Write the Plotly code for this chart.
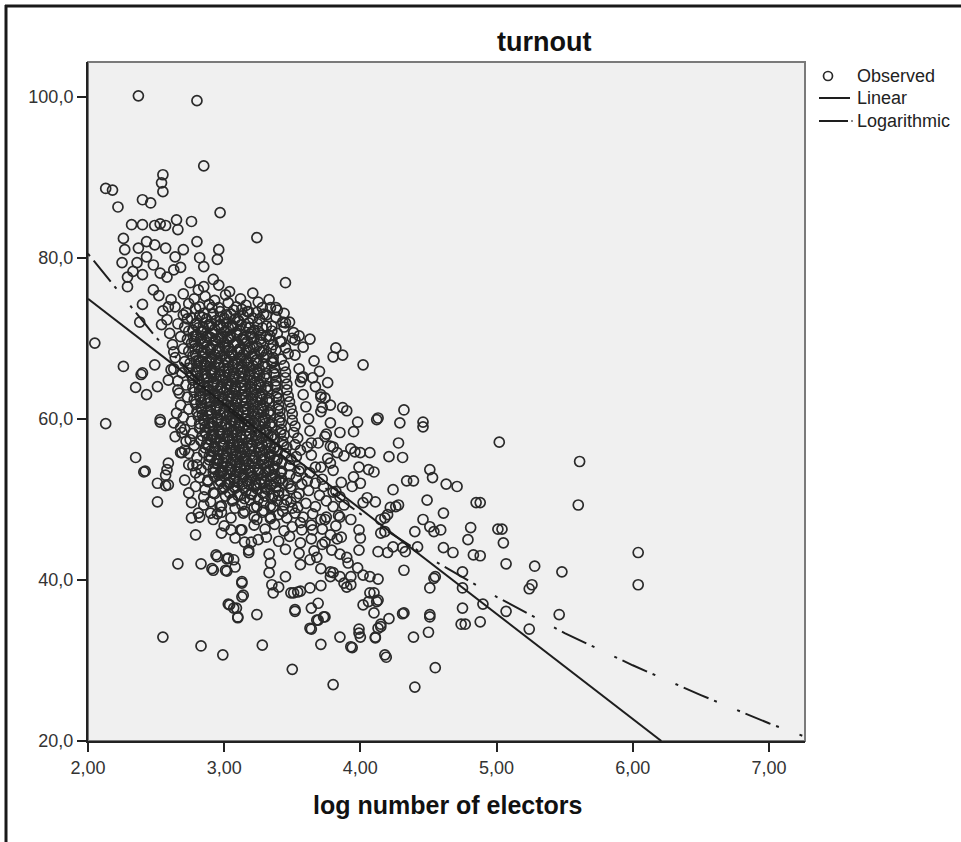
import plotly.graph_objects as go

# ---------------- data ----------------
observed_sparse = [
    (2.37,100.1),(2.80,99.5),(2.85,91.4),
    (2.55,90.3),(2.54,89.3),(2.55,88.2),
    (2.13,88.6),(2.18,88.4),(2.22,86.3),(2.40,87.2),(2.46,86.8),
    (2.97,85.6),(3.24,82.5),(3.45,76.9),
    (2.65,84.7),(2.76,84.5),(2.66,83.5),
    (2.32,84.1),(2.40,84.1),(2.49,84.0),(2.53,84.2),(2.57,84.0),
    (2.26,82.4),(2.27,81.0),(2.25,79.4),(2.29,77.6),(2.29,76.4),
    (2.37,81.2),(2.43,82.0),(2.49,81.6),(2.57,81.2),(2.64,80.1),(2.70,81.0),(2.80,82.0),(2.82,80.0),(2.85,78.9),(2.96,81.0),(2.95,79.8),
    (2.43,80.1),(2.48,79.1),(2.36,79.4),(2.33,78.3),(2.40,77.9),(2.53,78.1),(2.58,77.6),(2.63,78.5),(2.68,78.8),(2.75,76.9),(2.81,76.0),(2.85,76.4),(2.92,77.3),(2.96,76.6),(3.04,75.8),
    (3.25,74.5),(3.34,73.8),(3.39,73.5),(3.43,72.0),(3.51,70.7),(3.52,69.8),(3.17,73.3),(3.07,73.5),(3.10,72.3),(3.03,71.3),(2.97,71.7),
    (3.82,68.8),(3.87,67.9),(3.80,67.7),(4.02,66.7),
    (2.05,69.4),(2.38,72.0),
    (2.26,66.5),(2.40,65.7),(2.35,63.9),(2.43,63.0),
    (3.65,65.1),(3.57,65.1),(3.76,64.5),(3.71,62.7),(3.78,61.7),(3.87,61.4),(3.72,61.4),(4.13,60.1),(4.32,61.1),(4.46,59.6),
    (5.02,57.1),(5.61,54.7),(5.60,49.3),(4.88,49.6),(5.01,46.3),(5.04,46.3),(5.05,44.6),(4.88,43.0),(5.07,42.0),(5.28,41.7),
    (5.48,41.0),(6.04,43.4),(6.04,39.4),(5.26,39.4),(5.24,38.9),(4.90,37.0),(4.88,34.8),(5.07,36.1),(5.46,35.7),(5.24,33.9),
    (2.13,59.4),(2.35,55.2),(2.41,53.4),(2.51,52.0),(2.57,51.7),(2.51,49.7),(2.59,54.5),(2.58,53.7),(2.68,55.8),(2.66,42.0),(2.79,45.6),
    (2.83,42.0),(2.91,41.4),(2.95,42.9),(3.02,42.6),(3.07,42.5),(3.02,41.1),
    (3.13,39.6),(3.14,38.1),(3.13,37.9),(3.03,37.0),(3.07,36.5),(3.10,35.3),(3.24,35.7),
    (2.55,32.9),(2.83,31.8),(2.99,30.7),(3.28,31.9),(3.50,28.9),(3.80,27.0),(4.40,26.7),(4.55,29.1),(4.19,30.4),(4.39,32.9),
    (4.50,33.5),(4.51,35.4),(4.31,35.8),(4.21,35.2),
    (3.85,32.9),(3.94,31.6),(3.99,33.4),(3.99,33.9),(4.11,32.9),(4.13,34.0),(4.15,34.5),
    (3.71,32.0),(3.64,33.9),(3.69,35.0),(3.73,35.4),(3.69,37.1),(3.52,36.1),
    (3.36,38.4),(3.33,40.9),(3.34,42.1),(3.35,39.4),(3.51,38.4),(3.56,38.6),(3.63,39.0),(3.71,39.3),(3.90,39.1),(3.93,39.4),
    (4.02,36.9),(4.06,37.3),(4.10,38.4),(4.13,37.5),(4.13,40.1),(4.32,41.2),
    (4.51,39.0),(4.54,40.2),(4.75,41.0),(4.75,39.0),(4.75,36.5),(4.74,34.5),(4.77,34.5),
    (4.83,43.1),(4.81,46.5),(4.79,45.0),(4.85,49.6),
    (4.63,51.9),(4.71,51.6),(4.51,53.7),(4.53,52.7),(4.49,49.9),(4.61,48.3),
    (4.21,55.3),(4.31,55.2),(4.28,57.0),(4.34,52.3),(4.39,52.3),(4.24,51.2),(4.28,49.3),(4.18,47.7),(4.15,45.8),(4.31,44.0),
    (4.42,44.1),(4.33,43.5),(4.46,47.5),(4.51,46.6),(4.54,46.0),(4.59,46.2),(4.61,44.0),(4.68,43.4),(4.40,46.0),
    (3.93,56.3),(3.96,55.9),(4.00,55.8),(4.07,55.8),(3.99,54.0),(4.06,53.7),(4.10,53.4),(3.95,52.8),(4.00,52.0),(3.94,51.6),
    (4.02,49.6),(4.05,50.2),(4.11,49.7),(4.15,47.5),(4.20,48.1),(4.22,49.0),(4.26,49.1),(4.24,44.1),(4.20,43.4),(4.13,43.5),
    (4.18,46.0),(3.99,46.2),(4.00,45.2),(3.99,43.7),(3.90,42.8),(3.91,42.1),(3.98,41.5),(4.02,40.6),(4.07,40.4),(3.93,40.4),
    (3.88,39.6),(3.80,40.9),(3.78,40.4),
    (3.61,56.5),(3.69,57.0),(3.74,57.8),(3.80,56.5),(3.83,55.8),(3.78,54.5),(3.71,54.0),(3.63,53.3),(3.67,52.0),(3.73,51.6),
    (3.80,50.9),(3.85,50.3),(3.80,49.1),(3.75,47.8),(3.85,47.8),(3.93,47.5),(3.71,47.5),(3.65,46.2),(3.56,47.1),(3.78,45.6),
    (3.83,45.1),(3.72,44.4),(3.79,43.7),(3.85,43.2),(3.68,42.8),(3.63,42.5),(3.56,41.9),(3.71,41.4),(3.78,41.0),(3.85,40.4),
    (4.55,40.4),(4.51,35.7),(4.32,35.9),(4.18,30.7),
    (4.07,38.4),(4.12,37.3),(4.10,35.9),(4.15,34.2),(4.11,32.8),(4.00,32.9),(3.93,31.7),(3.63,34.0),(3.68,35.0),(3.74,35.4),
    (3.64,36.5),(3.52,36.3),(3.54,38.5),(3.49,38.4),
    (3.58,65.2),(3.71,63.0),(3.71,60.9),(3.78,59.5),(3.85,58.3),(4.12,59.9),(4.29,59.5),(4.46,59.0),
    (2.39,65.5),(2.51,64.0),(2.49,66.7),(2.53,59.9),(2.42,53.5),(2.57,53.0),
    (2.40,74.2),(2.48,76.0),(2.59,73.9),(2.54,71.7),
    (2.63,68.3),(2.61,66.1),(2.59,64.8),(2.66,63.6),(2.65,60.7),(2.68,58.9),(2.64,57.8),(2.71,56.1),(2.74,54.3),(2.79,53.3),
    (3.18,73.3),(3.38,73.8),(3.45,71.9),(3.42,69.6),(3.36,67.6),(3.27,70.4),(3.20,70.7),
    (2.92,41.2),(2.94,43.1),(3.03,42.7),(3.08,41.6),(3.01,41.2),(3.13,39.8),(3.04,36.9),(3.09,36.5),(3.10,35.4),(3.18,43.4),
    (3.40,39.1),(3.45,40.4),
    (2.59,51.8),(2.74,50.8),(2.81,48.3),(2.76,47.7),(2.85,49.3),(2.90,48.3),(2.98,48.4),(3.05,46.2),(2.98,45.8),(3.13,46.2),
    (3.15,44.7),(3.25,45.0),(3.24,47.5),(3.34,47.8),
    (2.53,59.6),(2.63,59.5),(2.69,58.3),(2.75,57.4),(2.69,55.8),(2.80,54.3),(2.71,52.4),(2.79,51.6),(2.85,50.3),(2.76,49.6),
    (2.82,47.8),(2.92,47.5),(2.97,49.1),(2.92,50.8),(2.88,52.4),(2.97,53.3),(3.04,52.0),
]

observed_core = [
    (2.52,75.3),(2.61,74.8),(2.70,75.5),(2.78,74.9),(2.86,75.2),(2.93,74.7),(3.01,75.4),(3.12,74.9),(3.21,75.6),(3.33,74.8),
    (2.55,73.4),(2.64,73.9),(2.72,73.2),(2.79,73.7),(2.85,73.1),(2.91,73.8),(2.97,73.3),(3.05,73.0),(3.13,73.6),(3.24,73.2),(3.31,72.9),(3.44,73.1),
    (2.58,72.3),(2.66,71.8),(2.73,72.4),(2.80,71.9),(2.84,72.6),(2.89,71.7),(2.94,72.2),(3.00,72.5),(3.06,71.6),(3.11,72.1),(3.18,71.9),(3.26,72.4),(3.35,71.5),(3.48,72.0),
    (2.60,70.6),(2.68,70.2),(2.74,70.9),(2.79,70.3),(2.83,70.8),(2.87,70.1),(2.91,70.6),(2.96,70.0),(3.00,70.8),(3.04,70.3),(3.09,70.7),(3.14,70.1),(3.19,70.5),(3.25,70.9),(3.31,70.2),(3.39,70.6),(3.55,70.3),(3.63,69.9),
    (2.62,69.2),(2.70,68.7),(2.76,69.4),(2.81,68.9),(2.85,69.3),(2.88,68.6),(2.92,69.1),(2.96,68.7),(3.00,69.5),(3.03,68.9),(3.07,69.2),(3.11,68.6),(3.15,69.3),(3.19,68.8),(3.24,69.0),(3.29,68.5),(3.36,69.2),(3.45,68.8),(3.58,68.9),
    (2.64,67.6),(2.71,67.1),(2.77,67.8),(2.81,67.2),(2.84,67.7),(2.87,67.0),(2.91,67.5),(2.94,67.1),(2.98,67.8),(3.01,67.3),(3.04,67.7),(3.08,67.0),(3.12,67.6),(3.16,67.2),(3.20,67.8),(3.24,67.3),(3.29,67.6),(3.35,67.0),(3.42,67.4),(3.52,67.9),(3.66,67.2),
    (2.63,66.2),(2.69,65.7),(2.74,66.3),(2.79,65.8),(2.83,66.4),(2.86,65.6),(2.90,66.1),(2.93,65.7),(2.97,66.4),(3.00,65.9),(3.03,66.3),(3.07,65.6),(3.10,66.2),(3.14,65.8),(3.18,66.4),(3.22,65.7),(3.26,66.1),(3.31,65.6),(3.37,66.3),(3.45,65.8),(3.55,66.2),(3.70,65.9),
    (2.66,64.7),(2.72,64.2),(2.77,64.8),(2.81,64.3),(2.85,64.9),(2.88,64.1),(2.92,64.6),(2.95,64.2),(2.99,64.8),(3.02,64.3),(3.05,64.7),(3.08,64.0),(3.12,64.5),(3.15,64.1),(3.19,64.8),(3.23,64.2),(3.27,64.6),(3.32,64.0),(3.38,64.7),(3.46,64.3),(3.56,64.6),(3.67,64.0),
    (2.67,63.2),(2.73,62.7),(2.78,63.3),(2.82,62.8),(2.86,63.4),(2.89,62.6),(2.93,63.1),(2.96,62.7),(3.00,63.3),(3.03,62.8),(3.06,63.2),(3.09,62.5),(3.13,63.0),(3.16,62.6),(3.20,63.3),(3.24,62.7),(3.28,63.1),(3.33,62.5),(3.39,63.2),(3.47,62.8),(3.58,63.0),(3.74,62.6),
    (2.68,61.7),(2.74,61.2),(2.79,61.8),(2.83,61.3),(2.87,61.9),(2.90,61.1),(2.94,61.6),(2.97,61.2),(3.01,61.8),(3.04,61.3),(3.07,61.7),(3.10,61.0),(3.14,61.5),(3.17,61.1),(3.21,61.8),(3.25,61.2),(3.29,61.6),(3.34,61.0),(3.40,61.7),(3.49,61.3),(3.60,61.5),(3.90,61.0),
    (2.70,60.2),(2.76,59.7),(2.81,60.3),(2.85,59.8),(2.88,60.4),(2.91,59.6),(2.95,60.1),(2.98,59.7),(3.02,60.3),(3.05,59.8),(3.08,60.2),(3.11,59.5),(3.15,60.0),(3.18,59.6),(3.22,60.3),(3.26,59.7),(3.30,60.1),(3.35,59.5),(3.41,60.2),(3.50,59.8),(3.62,60.0),(3.98,59.6),
    (2.71,58.7),(2.77,58.2),(2.82,58.8),(2.86,58.3),(2.89,58.9),(2.92,58.1),(2.96,58.6),(2.99,58.2),(3.03,58.8),(3.06,58.3),(3.09,58.7),(3.12,58.0),(3.16,58.5),(3.19,58.1),(3.23,58.8),(3.27,58.2),(3.31,58.6),(3.36,58.0),(3.42,58.7),(3.51,58.3),(3.63,58.5),(3.75,58.1),(3.95,58.4),
    (2.72,57.2),(2.78,56.7),(2.83,57.3),(2.87,56.8),(2.90,57.4),(2.93,56.6),(2.97,57.1),(3.00,56.7),(3.04,57.3),(3.07,56.8),(3.10,57.2),(3.13,56.5),(3.17,57.0),(3.20,56.6),(3.24,57.3),(3.28,56.7),(3.32,57.1),(3.37,56.5),(3.43,57.2),(3.52,56.8),(3.64,57.0),(3.78,56.6),
    (2.74,55.7),(2.80,55.2),(2.85,55.8),(2.89,55.3),(2.92,55.9),(2.95,55.1),(2.99,55.6),(3.02,55.2),(3.06,55.8),(3.09,55.3),(3.12,55.7),(3.15,55.0),(3.19,55.5),(3.22,55.1),(3.26,55.8),(3.30,55.2),(3.34,55.6),(3.39,55.0),(3.45,55.7),(3.53,55.3),(3.64,55.5),(3.76,55.1),(3.88,55.4),
    (2.77,54.2),(2.83,53.7),(2.88,54.3),(2.92,53.8),(2.95,54.4),(2.98,53.6),(3.02,54.1),(3.05,53.7),(3.09,54.3),(3.12,53.8),(3.15,54.2),(3.18,53.5),(3.22,54.0),(3.25,53.6),(3.29,54.3),(3.33,53.7),(3.37,54.1),(3.42,53.5),(3.48,54.2),(3.56,53.8),(3.67,54.0),(3.80,53.6),
    (2.82,52.7),(2.88,52.2),(2.93,52.8),(2.97,52.3),(3.00,52.9),(3.03,52.1),(3.07,52.6),(3.10,52.2),(3.14,52.8),(3.17,52.3),(3.20,52.7),(3.23,52.0),(3.27,52.5),(3.30,52.1),(3.34,52.8),(3.38,52.2),(3.42,52.6),(3.47,52.0),(3.53,52.7),(3.61,52.3),(3.72,52.5),(3.86,52.1),
    (2.86,51.2),(2.93,50.7),(2.99,51.3),(3.04,50.8),(3.08,51.4),(3.12,50.6),(3.16,51.1),(3.20,50.7),(3.24,51.3),(3.28,50.8),(3.32,51.2),(3.36,50.5),(3.40,51.0),(3.44,50.6),(3.49,51.3),(3.55,50.7),(3.62,51.1),(3.70,50.5),(3.82,51.0),
    (2.90,49.7),(2.98,49.2),(3.06,49.8),(3.13,49.3),(3.19,49.9),(3.24,49.1),(3.29,49.6),(3.34,49.2),(3.39,49.8),(3.44,49.3),(3.49,49.7),(3.54,49.0),(3.60,49.5),(3.67,49.1),(3.75,49.8),(3.88,49.3),
    (2.95,48.2),(3.05,47.7),(3.14,48.3),(3.22,47.8),(3.28,48.4),(3.34,47.6),(3.40,48.1),(3.46,47.7),(3.52,48.3),(3.58,47.8),(3.65,48.2),(3.74,47.5),(3.84,48.0),
    (3.00,46.7),(3.12,46.2),(3.22,46.8),(3.30,46.3),(3.37,46.9),(3.44,46.1),(3.50,46.6),(3.57,46.2),(3.64,46.8),(3.72,46.3),(3.82,46.7),
    (3.08,45.2),(3.20,44.7),(3.31,45.3),(3.40,44.8),(3.48,45.4),(3.56,44.6),(3.64,45.1),(3.74,44.7),(3.86,45.3),
    (3.18,43.7),(3.33,43.2),(3.45,43.8),(3.55,43.3),(3.66,43.6),
]

observed_core_dense = [
    (2.74,74.3),(2.82,73.9),(2.89,74.2),(2.96,73.8),(3.03,74.4),(3.09,73.9),(3.16,74.1),(3.28,73.8),
    (2.70,72.9),(2.76,72.5),(2.82,72.8),(2.87,72.4),(2.92,73.0),(2.97,72.6),(3.02,72.9),(3.08,72.4),(3.14,72.8),(3.21,72.5),(3.29,73.0),(3.38,72.6),
    (2.71,71.4),(2.77,71.0),(2.81,71.3),(2.85,70.9),(2.89,71.5),(2.93,71.1),(2.98,71.3),(3.02,70.9),(3.06,71.5),(3.11,71.0),(3.16,71.4),(3.22,71.0),(3.28,71.3),(3.35,70.9),(3.44,71.4),
    (2.73,69.9),(2.78,69.6),(2.83,70.0),(2.86,69.5),(2.90,70.1),(2.94,69.7),(2.98,70.0),(3.02,69.6),(3.05,70.1),(3.09,69.5),(3.13,69.9),(3.17,69.6),(3.22,70.0),(3.27,69.5),(3.33,69.9),(3.41,69.6),(3.50,70.0),
    (2.74,68.4),(2.79,68.0),(2.83,68.5),(2.86,68.1),(2.90,68.6),(2.93,68.0),(2.96,68.4),(3.00,68.1),(3.03,68.5),(3.06,67.9),(3.10,68.3),(3.14,68.0),(3.18,68.5),(3.22,68.1),(3.26,68.4),(3.31,68.0),(3.38,68.5),(3.47,68.1),
    (2.75,66.9),(2.80,66.5),(2.83,67.0),(2.87,66.6),(2.90,67.1),(2.93,66.5),(2.96,66.9),(3.00,66.6),(3.03,67.0),(3.06,66.4),(3.10,66.8),(3.13,66.5),(3.17,67.0),(3.21,66.6),(3.25,66.9),(3.30,66.5),(3.36,67.0),(3.44,66.6),
    (2.76,65.4),(2.81,65.0),(2.84,65.5),(2.88,65.1),(2.91,65.6),(2.94,65.0),(2.97,65.4),(3.01,65.1),(3.04,65.5),(3.07,64.9),(3.11,65.3),(3.14,65.0),(3.18,65.5),(3.22,65.1),(3.26,65.4),(3.31,65.0),(3.37,65.5),(3.45,65.1),
    (2.77,63.9),(2.82,63.5),(2.85,64.0),(2.89,63.6),(2.92,64.1),(2.95,63.5),(2.98,63.9),(3.02,63.6),(3.05,64.0),(3.08,63.4),(3.12,63.8),(3.15,63.5),(3.19,64.0),(3.23,63.6),(3.27,63.9),(3.32,63.5),(3.38,64.0),(3.46,63.6),
    (2.78,62.4),(2.83,62.0),(2.86,62.5),(2.90,62.1),(2.93,62.6),(2.96,62.0),(2.99,62.4),(3.03,62.1),(3.06,62.5),(3.09,61.9),(3.13,62.3),(3.16,62.0),(3.20,62.5),(3.24,62.1),(3.28,62.4),(3.33,62.0),(3.40,62.5),(3.48,62.1),
    (2.80,60.9),(2.84,60.5),(2.88,61.0),(2.91,60.6),(2.94,61.1),(2.97,60.5),(3.00,60.9),(3.04,60.6),(3.07,61.0),(3.10,60.4),(3.14,60.8),(3.17,60.5),(3.21,61.0),(3.25,60.6),(3.29,60.9),(3.34,60.5),(3.41,61.0),(3.50,60.6),
    (2.82,59.4),(2.86,59.0),(2.89,59.5),(2.92,59.1),(2.95,59.6),(2.98,59.0),(3.01,59.4),(3.05,59.1),(3.08,59.5),(3.11,58.9),(3.15,59.3),(3.18,59.0),(3.22,59.5),(3.26,59.1),(3.30,59.4),(3.35,59.0),(3.42,59.5),(3.52,59.1),
    (2.84,57.9),(2.88,57.5),(2.91,58.0),(2.94,57.6),(2.97,58.1),(3.00,57.5),(3.03,57.9),(3.06,57.6),(3.09,58.0),(3.13,57.4),(3.16,57.8),(3.20,57.5),(3.24,58.0),(3.28,57.6),(3.32,57.9),(3.37,57.5),(3.44,58.0),(3.54,57.6),
    (2.86,56.4),(2.90,56.0),(2.93,56.5),(2.96,56.1),(2.99,56.6),(3.02,56.0),(3.05,56.4),(3.08,56.1),(3.11,56.5),(3.15,55.9),(3.18,56.3),(3.22,56.0),(3.26,56.5),(3.30,56.1),(3.34,56.4),(3.39,56.0),(3.46,56.5),(3.56,56.1),
    (2.89,54.9),(2.93,54.5),(2.96,55.0),(2.99,54.6),(3.02,55.1),(3.05,54.5),(3.08,54.9),(3.11,54.6),(3.14,55.0),(3.18,54.4),(3.21,54.8),(3.25,54.5),(3.29,55.0),(3.33,54.6),(3.37,54.9),(3.42,54.5),(3.49,55.0),
    (2.92,53.4),(2.96,53.0),(2.99,53.5),(3.02,53.1),(3.05,53.6),(3.08,53.0),(3.11,53.4),(3.14,53.1),(3.18,53.5),(3.21,52.9),(3.25,53.3),(3.29,53.0),(3.33,53.5),(3.37,53.1),(3.42,53.4),(3.48,53.0),(3.55,53.5),
    (2.96,51.9),(3.00,51.5),(3.04,52.0),(3.07,51.6),(3.10,52.1),(3.14,51.5),(3.18,51.9),(3.22,51.6),(3.26,52.0),(3.30,51.4),(3.34,51.8),(3.38,51.5),(3.43,52.0),(3.49,51.6),(3.57,51.9),
    (3.01,50.4),(3.06,50.0),(3.10,50.5),(3.15,50.1),(3.20,50.6),(3.25,50.0),(3.30,50.4),(3.35,50.1),(3.40,50.5),(3.46,49.9),(3.53,50.3),
    (3.08,48.9),(3.15,48.5),(3.22,49.0),(3.29,48.6),(3.36,49.1),(3.43,48.5),(3.50,48.9),
]

observed_core_black = [
    (2.790,71.7),(2.845,71.4),(2.905,71.8),(2.955,71.5),(3.015,71.9),(3.065,71.4),(3.125,71.7),(3.185,71.3),(3.245,71.8),(3.310,71.5),
    (2.775,70.2),(2.825,69.9),(2.875,70.3),(2.935,69.8),(2.985,70.2),(3.035,69.9),(3.095,70.4),(3.145,69.8),(3.205,70.2),(3.265,69.9),(3.335,70.3),
    (2.785,68.7),(2.845,68.3),(2.895,68.8),(2.945,68.4),(3.005,68.9),(3.055,68.3),(3.115,68.7),(3.165,68.4),(3.215,68.8),(3.275,68.3),(3.345,68.7),
    (2.795,67.2),(2.855,66.8),(2.905,67.3),(2.955,66.9),(3.015,67.4),(3.065,66.8),(3.125,67.2),(3.175,66.9),(3.235,67.3),(3.285,66.8),(3.355,67.2),
    (2.805,65.7),(2.865,65.3),(2.915,65.8),(2.965,65.4),(3.025,65.9),(3.075,65.3),(3.125,65.7),(3.185,65.4),(3.245,65.8),(3.295,65.3),(3.365,65.7),
    (2.815,64.2),(2.875,63.8),(2.925,64.3),(2.975,63.9),(3.035,64.4),(3.085,63.8),(3.135,64.2),(3.195,63.9),(3.255,64.3),(3.305,63.8),(3.375,64.2),
    (2.825,62.7),(2.885,62.3),(2.935,62.8),(2.985,62.4),(3.045,62.9),(3.095,62.3),(3.145,62.7),(3.205,62.4),(3.265,62.8),(3.315,62.3),(3.385,62.7),
    (2.835,61.2),(2.895,60.8),(2.945,61.3),(2.995,60.9),(3.055,61.4),(3.105,60.8),(3.155,61.2),(3.215,60.9),(3.275,61.3),(3.325,60.8),(3.395,61.2),
    (2.855,59.7),(2.905,59.3),(2.955,59.8),(3.015,59.4),(3.065,59.9),(3.115,59.3),(3.175,59.7),(3.225,59.4),(3.285,59.8),(3.335,59.3),(3.405,59.7),
    (2.865,58.2),(2.915,57.8),(2.965,58.3),(3.025,57.9),(3.075,58.4),(3.125,57.8),(3.185,58.2),(3.235,57.9),(3.295,58.3),(3.345,57.8),(3.415,58.2),
    (2.885,56.7),(2.935,56.3),(2.985,56.8),(3.045,56.4),(3.095,56.9),(3.145,56.3),(3.205,56.7),(3.255,56.4),(3.315,56.8),(3.365,56.3),(3.435,56.7),
    (2.905,55.2),(2.955,54.8),(3.005,55.3),(3.065,54.9),(3.115,55.4),(3.165,54.8),(3.225,55.2),(3.275,54.9),(3.335,55.3),(3.385,54.8),
    (2.935,53.7),(2.985,53.3),(3.035,53.8),(3.095,53.4),(3.145,53.9),(3.195,53.3),(3.255,53.7),(3.305,53.4),(3.365,53.8),(3.415,53.3),
    (2.975,52.2),(3.025,51.8),(3.075,52.3),(3.135,51.9),(3.185,52.4),(3.235,51.8),(3.295,52.2),(3.345,51.9),(3.405,52.3),
]

linear_x = [2.00, 6.21]
linear_y = [74.9, 20.0]

log_x = [2.0, 2.5, 3.0, 3.5, 4.0, 4.5, 5.0, 5.5, 6.0, 6.5, 7.0, 7.27]
log_y = [80.5, 70.1, 61.6, 54.4, 48.2, 42.8, 37.9, 33.4, 29.4, 25.7, 22.2, 20.5]

x_tick_vals = [2, 3, 4, 5, 6, 7]
x_tick_text = ["2,00", "3,00", "4,00", "5,00", "6,00", "7,00"]
y_tick_vals = [20, 40, 60, 80, 100]
y_tick_text = ["20,0", "40,0", "60,0", "80,0", "100,0"]

series_names = ["Observed", "Linear", "Logarithmic"]
chart_title = "turnout"
x_title = "log number of electors"

# ---------------- figure ----------------
obs = observed_sparse + observed_core + observed_core_dense + observed_core_black
obs_x = [p[0] for p in obs]
obs_y = [p[1] for p in obs]

FONT = "Liberation Sans, Arial, sans-serif"
INK = "#2b2b2b"
LINE_INK = "#1e1e1e"
LOG_DASH = "3px,6px,27px,6px,3px,22px"

# plot area in pixels (for converting legend/frame positions to paper units)
PL, PR, PT, PB = 88, 805, 62, 741


def px_x(px):
    return (px - PL) / (PR - PL)


def px_y(py):
    return (PB - py) / (PB - PT)


fig = go.Figure()
fig.add_trace(go.Scatter(
    x=obs_x, y=obs_y, mode="markers", name=series_names[0], showlegend=False,
    marker=dict(symbol="circle-open", size=10, color="#2a2a2a",
                line=dict(width=1.7, color="#2a2a2a")),
))
fig.add_trace(go.Scatter(
    x=linear_x, y=linear_y, mode="lines", name=series_names[1], showlegend=False,
    line=dict(color=LINE_INK, width=2),
))
fig.add_trace(go.Scatter(
    x=log_x, y=log_y, mode="lines", name=series_names[2], showlegend=False,
    line=dict(color=LINE_INK, width=2, dash=LOG_DASH),
))

# legend drawn by hand to match the SPSS layout
legend_rows_py = [76, 98, 121]
legend_text_px = 855
annotations = []
for name, py in zip(series_names, legend_rows_py):
    annotations.append(dict(text=name, xref="paper", yref="paper",
                            x=px_x(legend_text_px), y=px_y(py), xanchor="left",
                            yanchor="middle", showarrow=False,
                            font=dict(size=18, color="#222", family=FONT)))
annotations += [
    dict(text="<b>" + chart_title + "</b>", xref="paper", yref="paper",
         x=px_x(544), y=px_y(42), xanchor="center", yanchor="middle",
         showarrow=False, font=dict(size=27, color="#111", family=FONT)),
    dict(text="<b>" + x_title + "</b>", xref="paper", yref="paper",
         x=px_x(447), y=px_y(805), xanchor="center", yanchor="middle",
         showarrow=False, font=dict(size=25, color="#111", family=FONT)),
]

shapes = [
    # plot frame (top/right in grey)
    dict(type="rect", xref="paper", yref="paper", x0=0, x1=1, y0=0, y1=1,
         line=dict(color="#7a7a7a", width=2), layer="below"),
    # outer image frame: top and left
    dict(type="line", xref="paper", yref="paper",
         x0=px_x(5), x1=px_x(962), y0=px_y(6), y1=px_y(6),
         line=dict(color="#1a1a1a", width=3)),
    dict(type="line", xref="paper", yref="paper",
         x0=px_x(6), x1=px_x(6), y0=px_y(5), y1=px_y(843),
         line=dict(color="#1a1a1a", width=3)),
    # legend symbols
    dict(type="circle", xref="paper", yref="paper",
         x0=px_x(823.5), x1=px_x(832.5), y0=px_y(71.5), y1=px_y(80.5),
         line=dict(color="#2a2a2a", width=1.7)),
    dict(type="line", xref="paper", yref="paper",
         x0=px_x(819), x1=px_x(850), y0=px_y(98), y1=px_y(98),
         line=dict(color=LINE_INK, width=2)),
    dict(type="line", xref="paper", yref="paper",
         x0=px_x(819), x1=px_x(848), y0=px_y(121), y1=px_y(121),
         line=dict(color=LINE_INK, width=2)),
    dict(type="line", xref="paper", yref="paper",
         x0=px_x(851), x1=px_x(853), y0=px_y(121), y1=px_y(121),
         line=dict(color="#666", width=1.5)),
]

fig.update_layout(
    width=961, height=842,
    margin=dict(l=PL, r=961 - PR, t=PT, b=842 - PB, pad=0),
    paper_bgcolor="white",
    plot_bgcolor="#f0f0f0",
    font=dict(family=FONT, size=18, color=INK),
    showlegend=False,
    xaxis=dict(range=[2, 7.265], tickvals=x_tick_vals, ticktext=x_tick_text,
               showgrid=False, zeroline=False, showline=True, linecolor="#222",
               linewidth=2, ticks="outside", ticklen=9, tickwidth=1.5,
               tickcolor="#222", tickfont=dict(size=18, color="#333")),
    yaxis=dict(range=[20, 104.3], tickvals=y_tick_vals, ticktext=y_tick_text,
               showgrid=False, zeroline=False, showline=True, linecolor="#222",
               linewidth=2, ticks="outside", ticklen=9, tickwidth=1.5,
               tickcolor="#222", tickfont=dict(size=18, color="#333")),
    annotations=annotations,
    shapes=shapes,
)

fig.write_html("out.html")
